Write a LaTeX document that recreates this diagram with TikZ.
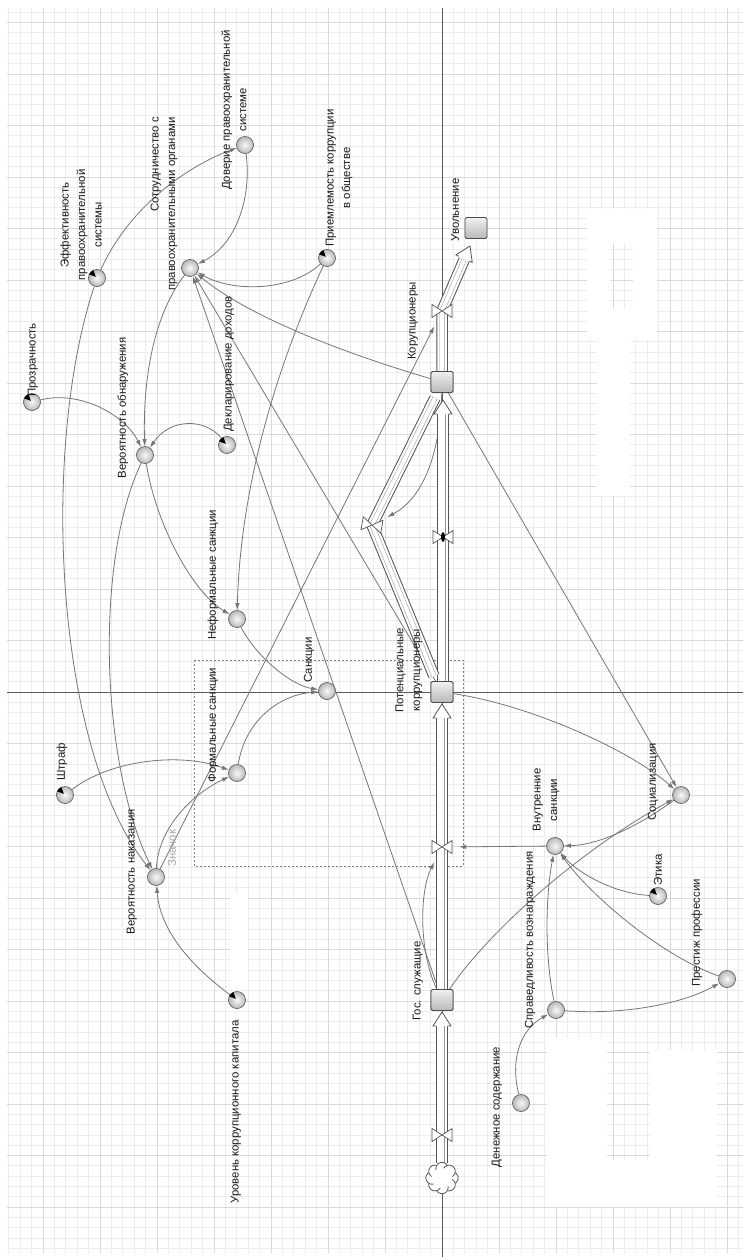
\documentclass[tikz,border=0pt]{standalone}
\usepackage{fontspec}
\setmainfont{Liberation Sans}
\usetikzlibrary{arrows.meta,shapes.geometric}
\definecolor{lk}{RGB}{118,118,118}
\definecolor{pd}{RGB}{85,85,85}
\definecolor{pg}{RGB}{150,150,150}
\definecolor{gmin}{RGB}{236,236,236}
\definecolor{gmaj}{RGB}{218,218,218}
\definecolor{ax}{RGB}{90,90,90}
\newcommand\pipeline[1]{%
  \draw[line width=11.5pt,color=pd] #1;
  \draw[line width=9.5pt,color=white] #1;
  \draw[line width=5pt,color=pg] #1;
  \draw[line width=4pt,color=white] #1;}
\begin{document}
\begin{tikzpicture}[x=1pt,y=-1pt,
  lbl/.style={rotate=90,font=\fontsize{11.4}{16.5}\selectfont,text=black!90,inner sep=0pt,align=center},
  aux/.style={circle,draw=gray!75!black,line width=0.7pt,inner color=gray!5,outer color=gray!55,minimum size=17pt,inner sep=0pt},
  param/.style={aux},
  stock/.style={rectangle,rounded corners=1.5pt,draw=gray!60!black,line width=0.8pt,top color=gray!12,bottom color=gray!55,minimum width=22pt,minimum height=21pt,inner sep=0pt},
  valve/.style={circle,minimum size=34pt,inner sep=0pt},
  link/.style={draw=lk,line width=0.8pt,-{Latex[length=7pt,width=4.5pt]}},
  bow/.pic={\draw[fill=white,draw=pd,line width=0.7pt] (-10,-6.5)--(0,0)--(-10,6.5)--cycle (10,-6.5)--(0,0)--(10,6.5)--cycle;},
  parrow/.pic={\filldraw[fill=white,draw=pd,line width=0.8pt] (-14,-5.75)--(-14,-9)--(0,0)--(-14,9)--(-14,5.75);},
  dial/.pic={\fill[black] (-1.2,-1.2)--(-7.9,-3.6)--(-6.2,-6.2)--(-3.6,-7.9)--cycle;}
]
\useasboundingbox (0,0) rectangle (743,1257);
\fill[white] (0,0) rectangle (743,1257);
% grid
\begin{scope}
\clip (7,8) rectangle (743,1253);
\foreach \i in {-40,...,30} {\draw[gmin,line width=0.8pt] ({442+11.4*\i},8) -- ({442+11.4*\i},1253);}
\foreach \i in {-70,...,60} {\draw[gmin,line width=0.8pt] (7,{692+10.3*\i}) -- (743,{692+10.3*\i});}
\foreach \i in {-8,...,6} {\draw[gmaj,line width=0.9pt] ({442+57*\i},8) -- ({442+57*\i},1253);}
\foreach \i in {-14,...,12} {\draw[gmaj,line width=0.9pt] (7,{692+51.5*\i}) -- (743,{692+51.5*\i});}
\end{scope}
% white blotches
\fill[white,even odd rule] (587,209)--(657,209)--(657,339)--(630,339)--(630,496)--(597,496)--(597,339)--(587,339)--cycle (610,243) rectangle (633,309);
\fill[white] (230,893) rectangle (248,987);
\fill[white] (547,1037)--(607,1037)--(607,1160)--(650,1160)--(650,1050)--(717,1050)--(717,1207)--(547,1207)--cycle;
% axes
\draw[ax,line width=0.9pt] (442,8) -- (442,1257);
\draw[ax,line width=0.9pt] (7,692) -- (743,692);
% dashed rectangle
\draw[gray,line width=0.6pt,dash pattern=on 2pt off 2pt] (194,660) rectangle (463,866);

% nodes
\node[stock] (kor) at (442,382) {};
\node[stock] (uv) at (476,228) {};
\node[stock] (pot) at (442,692) {};
\node[stock] (gos) at (442,1000) {};
\coordinate (cl) at (442,1178);
\node[valve] (v1) at (442,1135) {};
\node[valve] (v2) at (442,847) {};
\node[valve] (v3) at (442,537) {};
\node[valve] (v4) at (442,311) {};
\node[valve] (v5) at (372,525) {};

\node[aux] (dov) at (245,145) {};
\node[aux] (sotr) at (190,268) {};
\node[param] (eff) at (97,278) {};
\node[param] (prozr) at (32,402) {};
\node[param] (priem) at (327,258) {};
\node[aux] (verobn) at (145,455) {};
\node[param] (dekl) at (227,445) {};
\node[aux] (neform) at (237,619) {};
\node[aux] (sank) at (327,691) {};
\node[aux] (form) at (237,773) {};
\node[param] (shtraf) at (65,795) {};
\node[aux] (vernak) at (156,877) {};
\node[param] (urov) at (237,1000) {};
\node[aux] (den) at (521,1103) {};
\node[aux] (sprav) at (556,1010) {};
\node[aux] (prest) at (727,979) {};
\node[param] (etika) at (658,896) {};
\node[aux] (vnutr) at (555,846) {};
\node[aux] (soc) at (681,795) {};
\foreach \n in {eff,prozr,priem,dekl,shtraf,urov,etika} {\pic at (\n) {dial};}

% links
\draw[link] (eff) .. controls (130,205) and (190,165) .. (dov);
\draw[link] (dov) .. controls (252,200) and (235,245) .. (sotr);
\draw[link] (priem) .. controls (290,292) and (232,292) .. (sotr);
\draw[link] (sotr) .. controls (150,320) and (143,390) .. (verobn);
\draw[link] (prozr) .. controls (80,390) and (125,415) .. (verobn);
\draw[link] (dekl) .. controls (205,418) and (170,418) .. (verobn);
\draw[link] (verobn) .. controls (155,520) and (190,590) .. (neform);
\draw[link] (priem) .. controls (270,380) and (240,500) .. (neform);
\draw[link] (neform) .. controls (255,655) and (290,685) .. (sank);
\draw[link] (form) .. controls (245,720) and (280,695) .. (sank);
\draw[link] (shtraf) .. controls (110,760) and (180,752) .. (form);
\draw[link] (vernak) .. controls (158,830) and (190,795) .. (form);
\draw[link] (verobn) .. controls (95,560) and (100,760) .. (vernak);
\draw[link] (eff) .. controls (40,450) and (55,750) .. (vernak);
\draw[link] (urov) .. controls (190,965) and (160,930) .. (vernak);
\draw[link] (kor) .. controls (350,355) and (250,318) .. (sotr);
\draw[link] (pot) -- (sotr);
\draw[link] (gos) -- (sotr);
\draw[link] (kor) -- (soc);
\draw[link] (pot) .. controls (530,705) and (630,750) .. (soc);
\draw[link] (soc) .. controls (640,825) and (600,845) .. (vnutr);
\draw[link] (etika) .. controls (610,893) and (575,870) .. (vnutr);
\draw[link] (prest) .. controls (660,955) and (590,895) .. (vnutr);
\draw[link] (sprav) .. controls (545,960) and (545,900) .. (vnutr);
\draw[link] (sprav) .. controls (620,1015) and (680,1005) .. (prest);
\draw[link] (den) .. controls (510,1060) and (520,1030) .. (sprav);
\draw[link] (gos) .. controls (490,930) and (580,850) .. (soc);
\draw[link] (vnutr) -- (v2);
\draw[link] (gos) .. controls (418,950) and (420,890) .. (v2);
\draw[link] (vernak) -- (v4);
\draw[link] (kor) .. controls (440,460) and (420,500) .. (v5);

% pipes
\pipeline{(442,1163) -- (442,1026)}
\pic[rotate=90] at (442,1012) {parrow};
\pipeline{(442,989) -- (442,718)}
\pic[rotate=90] at (442,704) {parrow};
\pipeline{(443,681) -- (443,414)}
\pic[rotate=90] at (443,400) {parrow};
\pipeline{(435,398) -- (372,525) -- (434,676)}
\pipeline{(442,371) -- (442,311) -- (464,260)}
\pic[rotate=65] at (470,246) {parrow};
\pic at (442,1135) {bow};
\pic at (442,847) {bow};
\pic at (443,537) {bow};
\fill[black] (443,537) ellipse (2pt and 5pt);
\pic at (442,311) {bow};
\pic[rotate=-10] at (372,525) {bow};
\node[stock] at (kor) {};
\node[stock] at (pot) {};
\node[stock] at (gos) {};
% cloud
\begin{scope}[shift={(cl)}]
\foreach \a in {0,45,...,315} {\filldraw[fill=white,draw=pd,line width=0.8pt] ({10*cos(\a)},{9.5*sin(\a)}) circle (6.2pt);}
\fill[white] (0,0) ellipse (10.5pt and 10pt);
\end{scope}

% labels
\node[lbl] at (234,110) {Доверие правоохранительной\\системе};
\node[lbl,align=right] at (164,204) {Сотрудничество с\\правоохранительными органами};
\node[lbl] at (81,225) {Эффективность\\правоохранительной\\системы};
\node[lbl] at (33,360) {Прозрачность};
\node[lbl] at (339,178) {Приемлемость коррупции\\в обществе};
\node[lbl] at (123,408) {Вероятность обнаружения};
\node[lbl] at (229,364) {Декларирование доходов};
\node[lbl] at (213,575) {Неформальные санкции};
\node[lbl] at (309,660) {Санкции};
\node[lbl] at (213,725) {Формальные санкции};
\node[lbl] at (62,762) {Штраф};
\node[lbl] at (132,872) {Вероятность наказания};
\node[lbl,text=gray!70] at (172,848) {Значок};
\node[lbl] at (236,1112) {Уровень коррупционного капитала};
\node[lbl] at (497,1107) {Денежное содержание};
\node[lbl] at (530,940) {Справедливость вознаграждения};
\node[lbl] at (697,933) {Престиж профессии};
\node[lbl] at (658,870) {Этика};
\node[lbl] at (546,800) {Внутренние\\санкции};
\node[lbl] at (653,782) {Социализация};
\node[lbl] at (413,321) {Корупционеры};
\node[lbl] at (455,210) {Увольнение};
\node[lbl] at (409,670) {Потенциальные\\коррупционеры};
\node[lbl] at (418,981) {Гос. служащие};
\end{tikzpicture}
\end{document}
